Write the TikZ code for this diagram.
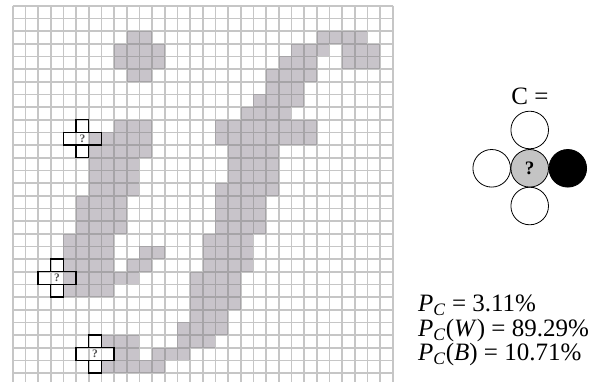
\documentclass[tikz,border=0pt]{standalone}
\usepackage{fontspec}
\setmainfont{Liberation Serif}
\definecolor{cellgray}{RGB}{200,196,202}
\definecolor{gridgray}{RGB}{120,120,120}
\definecolor{ballgray}{RGB}{196,196,196}
\definecolor{qgray}{RGB}{80,80,80}
\tikzset{
  gridline/.style={draw=gridgray, draw opacity=0.42, line width=1.7pt},
  crossline/.style={draw=black, line width=1.4pt},
  qmark/.style={font=\fontsize{11.5}{11.5}\selectfont\bfseries, text=qgray, inner sep=0pt},
  ball/.style={circle, draw=black, line width=0.8pt, minimum size=37.6pt, inner sep=0pt},
  bigtext/.style={font=\fontsize{25}{25}\selectfont, inner sep=0pt, anchor=base west},
}
\begin{document}
\begin{tikzpicture}[x=1pt,y=-1pt]
\useasboundingbox (0,0) rectangle (606,382);
\fill[white] (0,0) rectangle (606,382);
\begin{scope}[shift={(12.7,5.7)}, x=12.67pt, y=-12.67pt]
  % gray cells: row / first col / last col
  \foreach \r/\a/\b in {
    2/9/10, 2/24/27,
    3/8/11, 3/22/24, 3/26/28,
    4/8/11, 4/21/23, 4/26/28,
    5/9/10, 5/20/23,
    6/20/22,
    7/19/22,
    8/18/21,
    9/8/10, 9/16/23,
    10/6/10, 10/16/23,
    11/6/10, 11/17/20,
    12/6/9, 12/17/20,
    13/6/9, 13/17/20,
    14/6/9, 14/16/20,
    15/5/8, 15/16/19,
    16/5/8, 16/16/19,
    17/5/8, 17/16/19,
    18/4/7, 18/15/18,
    19/4/7, 19/10/11, 19/15/18,
    20/4/7, 20/9/10, 20/15/18,
    21/4/9, 21/14/17,
    22/4/7, 22/14/17,
    23/14/17,
    24/14/16,
    25/13/16,
    26/7/9, 26/13/15,
    27/8/9, 27/11/13,
    28/7/11}
  { \fill[cellgray] (\a,\r) rectangle ({\b+1},{\r+1}); }
  % grid
  \draw[gridline] foreach \i in {0,...,30} { (\i,0) -- (\i,30) (0,\i) -- (30,\i) };
  % crosses
  \foreach \c/\r/\n in {5/10/qa, 3/21/qb, 6/27/qc} {
    \draw[crossline] ({\c-1},\r) rectangle ({\c+2},{\r+1});
    \draw[crossline] (\c,{\r-1}) rectangle ({\c+1},\r);
    \draw[crossline] (\c,{\r+1}) rectangle ({\c+1},{\r+2});
    \node[qmark] (\n) at ({\c+0.5},{\r+0.5}) {?};
  }
\end{scope}
% neighbourhood
\node[font=\fontsize{25}{25}\selectfont, inner sep=0pt, anchor=base] (clabel) at (530,105) {C =};
\node[ball] (top) at (529.7,130) {};
\node[ball] (left) at (491.7,168.3) {};
\node[ball, fill=ballgray, font=\fontsize{19}{19}\selectfont\bfseries] (mid) at (529.7,168.3) {?};
\node[ball, fill=black] (right) at (567.8,168.3) {};
\node[ball] (bottom) at (529.7,206) {};
% probabilities
\node[bigtext] (pc) at (418,311.7) {\textit{P}\textsubscript{\textit{C}} = 3.11\%};
\node[bigtext] (pw) at (418,336.4) {\textit{P}\textsubscript{\textit{C}}(\textit{W}) = 89.29\%};
\node[bigtext] (pb) at (418,361) {\textit{P}\textsubscript{\textit{C}}(\textit{B}) = 10.71\%};
\end{tikzpicture}
\end{document}
